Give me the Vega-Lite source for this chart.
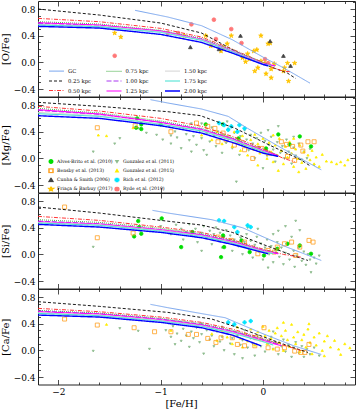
{
"$schema":"https://vega.github.io/schema/vega-lite/v6.json",
"padding":{"left":0,"top":0,"right":1,"bottom":0},
"bounds":"flush",
"spacing":0,
"config":{"view":{"stroke":null},"axis":{"labelFont":"DejaVu Serif","titleFont":"DejaVu Serif","labelFontSize":9,"titleFontSize":10,"titleFontWeight":"normal","domainColor":"#222","tickColor":"#222","labelColor":"#000","titleColor":"#000","tickWidth":0.8,"domainWidth":1,"grid":false,"labelOverlap":false,"labelBound":false,"labelFlush":false},"legend":{"labelFont":"DejaVu Serif","labelColor":"#000"}},
"resolve":{"scale":{"color":"independent","fill":"independent","stroke":"independent","shape":"independent","size":"independent","strokeDash":"independent","strokeWidth":"independent"}},
"datasets":{
"lines":[
{"p":1,"m":"GC","x":-1.25,"y":0.78},{"p":1,"m":"GC","x":-0.93,"y":0.68},{"p":1,"m":"GC","x":-0.6,"y":0.55},{"p":1,"m":"GC","x":-0.3,"y":0.34},{"p":1,"m":"GC","x":0.0,"y":0.08},{"p":1,"m":"GC","x":0.2,"y":-0.08},{"p":1,"m":"GC","x":0.46,"y":-0.31},
{"p":1,"m":"0.25 kpc","x":-2.2,"y":0.80},{"p":1,"m":"0.25 kpc","x":-1.6,"y":0.71},{"p":1,"m":"0.25 kpc","x":-1.0,"y":0.59},{"p":1,"m":"0.25 kpc","x":-0.6,"y":0.44},{"p":1,"m":"0.25 kpc","x":-0.44,"y":0.31},{"p":1,"m":"0.25 kpc","x":-0.27,"y":0.17},{"p":1,"m":"0.25 kpc","x":-0.12,"y":0.05},{"p":1,"m":"0.25 kpc","x":0.05,"y":-0.05},{"p":1,"m":"0.25 kpc","x":0.24,"y":-0.16},{"p":1,"m":"0.25 kpc","x":0.32,"y":-0.24},
{"p":1,"m":"0.50 kpc","x":-2.2,"y":0.66},{"p":1,"m":"0.50 kpc","x":-1.6,"y":0.61},{"p":1,"m":"0.50 kpc","x":-1.0,"y":0.51},{"p":1,"m":"0.50 kpc","x":-0.6,"y":0.38},{"p":1,"m":"0.50 kpc","x":-0.3,"y":0.20},{"p":1,"m":"0.50 kpc","x":0.0,"y":0.0},{"p":1,"m":"0.50 kpc","x":0.1,"y":-0.08},{"p":1,"m":"0.50 kpc","x":0.2,"y":-0.13},{"p":1,"m":"0.50 kpc","x":0.27,"y":-0.14},
{"p":1,"m":"0.75 kpc","x":-2.2,"y":0.61},{"p":1,"m":"0.75 kpc","x":-1.6,"y":0.575},{"p":1,"m":"0.75 kpc","x":-1.0,"y":0.48},{"p":1,"m":"0.75 kpc","x":-0.6,"y":0.36},{"p":1,"m":"0.75 kpc","x":-0.3,"y":0.19},{"p":1,"m":"0.75 kpc","x":0.0,"y":0.0},{"p":1,"m":"0.75 kpc","x":0.12,"y":-0.06},
{"p":1,"m":"1.00 kpc","x":-2.2,"y":0.585},{"p":1,"m":"1.00 kpc","x":-1.6,"y":0.555},{"p":1,"m":"1.00 kpc","x":-1.0,"y":0.47},{"p":1,"m":"1.00 kpc","x":-0.6,"y":0.35},{"p":1,"m":"1.00 kpc","x":-0.3,"y":0.18},{"p":1,"m":"1.00 kpc","x":0.0,"y":-0.01},{"p":1,"m":"1.00 kpc","x":0.1,"y":-0.05},
{"p":1,"m":"1.25 kpc","x":-2.2,"y":0.595},{"p":1,"m":"1.25 kpc","x":-1.6,"y":0.56},{"p":1,"m":"1.25 kpc","x":-1.0,"y":0.47},{"p":1,"m":"1.25 kpc","x":-0.6,"y":0.345},{"p":1,"m":"1.25 kpc","x":-0.3,"y":0.17},{"p":1,"m":"1.25 kpc","x":0.0,"y":-0.02},{"p":1,"m":"1.25 kpc","x":0.12,"y":-0.05},
{"p":1,"m":"1.50 kpc","x":-2.2,"y":0.57},{"p":1,"m":"1.50 kpc","x":-1.6,"y":0.545},{"p":1,"m":"1.50 kpc","x":-1.0,"y":0.46},{"p":1,"m":"1.50 kpc","x":-0.6,"y":0.34},{"p":1,"m":"1.50 kpc","x":-0.3,"y":0.17},{"p":1,"m":"1.50 kpc","x":0.0,"y":-0.02},{"p":1,"m":"1.50 kpc","x":0.08,"y":-0.05},
{"p":1,"m":"1.75 kpc","x":-2.2,"y":0.56},{"p":1,"m":"1.75 kpc","x":-1.6,"y":0.535},{"p":1,"m":"1.75 kpc","x":-1.0,"y":0.45},{"p":1,"m":"1.75 kpc","x":-0.6,"y":0.33},{"p":1,"m":"1.75 kpc","x":-0.3,"y":0.16},{"p":1,"m":"1.75 kpc","x":0.0,"y":-0.03},{"p":1,"m":"1.75 kpc","x":0.08,"y":-0.05},
{"p":1,"m":"2.00 kpc","x":-2.2,"y":0.54},{"p":1,"m":"2.00 kpc","x":-1.6,"y":0.515},{"p":1,"m":"2.00 kpc","x":-1.0,"y":0.42},{"p":1,"m":"2.00 kpc","x":-0.6,"y":0.30},{"p":1,"m":"2.00 kpc","x":-0.3,"y":0.14},{"p":1,"m":"2.00 kpc","x":0.0,"y":-0.03},{"p":1,"m":"2.00 kpc","x":0.05,"y":-0.05},

{"p":2,"m":"GC","x":-1.1,"y":0.88},{"p":2,"m":"GC","x":-0.93,"y":0.83},{"p":2,"m":"GC","x":-0.6,"y":0.74},{"p":2,"m":"GC","x":-0.34,"y":0.63},{"p":2,"m":"GC","x":-0.15,"y":0.45},{"p":2,"m":"GC","x":0.2,"y":0.14},{"p":2,"m":"GC","x":0.57,"y":-0.17},
{"p":2,"m":"0.25 kpc","x":-2.2,"y":0.84},{"p":2,"m":"0.25 kpc","x":-1.6,"y":0.78},{"p":2,"m":"0.25 kpc","x":-0.93,"y":0.70},{"p":2,"m":"0.25 kpc","x":-0.61,"y":0.64},{"p":2,"m":"0.25 kpc","x":-0.27,"y":0.45},{"p":2,"m":"0.25 kpc","x":0.05,"y":0.21},{"p":2,"m":"0.25 kpc","x":0.37,"y":-0.02},{"p":2,"m":"0.25 kpc","x":0.47,"y":-0.12},
{"p":2,"m":"0.50 kpc","x":-2.2,"y":0.78},{"p":2,"m":"0.50 kpc","x":-1.6,"y":0.71},{"p":2,"m":"0.50 kpc","x":-1.0,"y":0.60},{"p":2,"m":"0.50 kpc","x":-0.6,"y":0.48},{"p":2,"m":"0.50 kpc","x":-0.3,"y":0.33},{"p":2,"m":"0.50 kpc","x":0.0,"y":0.15},{"p":2,"m":"0.50 kpc","x":0.2,"y":0.0},{"p":2,"m":"0.50 kpc","x":0.31,"y":-0.05},
{"p":2,"m":"0.75 kpc","x":-2.2,"y":0.75},{"p":2,"m":"0.75 kpc","x":-1.6,"y":0.68},{"p":2,"m":"0.75 kpc","x":-1.0,"y":0.56},{"p":2,"m":"0.75 kpc","x":-0.6,"y":0.45},{"p":2,"m":"0.75 kpc","x":-0.3,"y":0.31},{"p":2,"m":"0.75 kpc","x":0.0,"y":0.13},{"p":2,"m":"0.75 kpc","x":0.15,"y":0.05},
{"p":2,"m":"1.00 kpc","x":-2.2,"y":0.72},{"p":2,"m":"1.00 kpc","x":-1.6,"y":0.66},{"p":2,"m":"1.00 kpc","x":-1.0,"y":0.54},{"p":2,"m":"1.00 kpc","x":-0.6,"y":0.44},{"p":2,"m":"1.00 kpc","x":-0.3,"y":0.30},{"p":2,"m":"1.00 kpc","x":0.0,"y":0.12},{"p":2,"m":"1.00 kpc","x":0.12,"y":0.05},
{"p":2,"m":"1.25 kpc","x":-2.2,"y":0.73},{"p":2,"m":"1.25 kpc","x":-1.6,"y":0.665},{"p":2,"m":"1.25 kpc","x":-1.0,"y":0.54},{"p":2,"m":"1.25 kpc","x":-0.6,"y":0.43},{"p":2,"m":"1.25 kpc","x":-0.3,"y":0.29},{"p":2,"m":"1.25 kpc","x":0.0,"y":0.12},{"p":2,"m":"1.25 kpc","x":0.15,"y":0.04},
{"p":2,"m":"1.50 kpc","x":-2.2,"y":0.69},{"p":2,"m":"1.50 kpc","x":-1.6,"y":0.64},{"p":2,"m":"1.50 kpc","x":-1.0,"y":0.52},{"p":2,"m":"1.50 kpc","x":-0.6,"y":0.42},{"p":2,"m":"1.50 kpc","x":-0.3,"y":0.28},{"p":2,"m":"1.50 kpc","x":0.0,"y":0.11},{"p":2,"m":"1.50 kpc","x":0.1,"y":0.05},
{"p":2,"m":"1.75 kpc","x":-2.2,"y":0.67},{"p":2,"m":"1.75 kpc","x":-1.6,"y":0.63},{"p":2,"m":"1.75 kpc","x":-1.0,"y":0.51},{"p":2,"m":"1.75 kpc","x":-0.6,"y":0.41},{"p":2,"m":"1.75 kpc","x":-0.3,"y":0.27},{"p":2,"m":"1.75 kpc","x":0.0,"y":0.10},{"p":2,"m":"1.75 kpc","x":0.1,"y":0.04},
{"p":2,"m":"2.00 kpc","x":-2.2,"y":0.64},{"p":2,"m":"2.00 kpc","x":-1.6,"y":0.60},{"p":2,"m":"2.00 kpc","x":-1.0,"y":0.49},{"p":2,"m":"2.00 kpc","x":-0.6,"y":0.38},{"p":2,"m":"2.00 kpc","x":-0.3,"y":0.24},{"p":2,"m":"2.00 kpc","x":0.0,"y":0.08},{"p":2,"m":"2.00 kpc","x":0.15,"y":0.03},

{"p":3,"m":"GC","x":-1.08,"y":0.66},{"p":3,"m":"GC","x":-0.93,"y":0.62},{"p":3,"m":"GC","x":-0.5,"y":0.52},{"p":3,"m":"GC","x":-0.2,"y":0.40},{"p":3,"m":"GC","x":0.2,"y":0.13},{"p":3,"m":"GC","x":0.57,"y":-0.09},
{"p":3,"m":"0.25 kpc","x":-2.2,"y":0.71},{"p":3,"m":"0.25 kpc","x":-1.6,"y":0.62},{"p":3,"m":"0.25 kpc","x":-1.0,"y":0.51},{"p":3,"m":"0.25 kpc","x":-0.6,"y":0.44},{"p":3,"m":"0.25 kpc","x":-0.3,"y":0.33},{"p":3,"m":"0.25 kpc","x":0.0,"y":0.15},{"p":3,"m":"0.25 kpc","x":0.3,"y":-0.02},{"p":3,"m":"0.25 kpc","x":0.44,"y":-0.09},
{"p":3,"m":"0.50 kpc","x":-2.2,"y":0.57},{"p":3,"m":"0.50 kpc","x":-1.6,"y":0.51},{"p":3,"m":"0.50 kpc","x":-1.0,"y":0.41},{"p":3,"m":"0.50 kpc","x":-0.6,"y":0.33},{"p":3,"m":"0.50 kpc","x":-0.3,"y":0.22},{"p":3,"m":"0.50 kpc","x":0.0,"y":0.08},{"p":3,"m":"0.50 kpc","x":0.2,"y":0.0},{"p":3,"m":"0.50 kpc","x":0.37,"y":-0.04},
{"p":3,"m":"0.75 kpc","x":-2.2,"y":0.52},{"p":3,"m":"0.75 kpc","x":-1.6,"y":0.48},{"p":3,"m":"0.75 kpc","x":-1.0,"y":0.39},{"p":3,"m":"0.75 kpc","x":-0.6,"y":0.31},{"p":3,"m":"0.75 kpc","x":-0.3,"y":0.21},{"p":3,"m":"0.75 kpc","x":0.0,"y":0.07},{"p":3,"m":"0.75 kpc","x":0.15,"y":0.02},
{"p":3,"m":"1.00 kpc","x":-2.2,"y":0.50},{"p":3,"m":"1.00 kpc","x":-1.6,"y":0.46},{"p":3,"m":"1.00 kpc","x":-1.0,"y":0.37},{"p":3,"m":"1.00 kpc","x":-0.6,"y":0.30},{"p":3,"m":"1.00 kpc","x":-0.3,"y":0.20},{"p":3,"m":"1.00 kpc","x":0.0,"y":0.06},{"p":3,"m":"1.00 kpc","x":0.15,"y":0.01},
{"p":3,"m":"1.25 kpc","x":-2.2,"y":0.49},{"p":3,"m":"1.25 kpc","x":-1.6,"y":0.455},{"p":3,"m":"1.25 kpc","x":-1.0,"y":0.37},{"p":3,"m":"1.25 kpc","x":-0.6,"y":0.29},{"p":3,"m":"1.25 kpc","x":-0.3,"y":0.19},{"p":3,"m":"1.25 kpc","x":0.0,"y":0.06},{"p":3,"m":"1.25 kpc","x":0.15,"y":0.01},
{"p":3,"m":"1.50 kpc","x":-2.2,"y":0.48},{"p":3,"m":"1.50 kpc","x":-1.6,"y":0.445},{"p":3,"m":"1.50 kpc","x":-1.0,"y":0.36},{"p":3,"m":"1.50 kpc","x":-0.6,"y":0.28},{"p":3,"m":"1.50 kpc","x":-0.3,"y":0.18},{"p":3,"m":"1.50 kpc","x":0.0,"y":0.05},{"p":3,"m":"1.50 kpc","x":0.1,"y":0.02},
{"p":3,"m":"1.75 kpc","x":-2.2,"y":0.47},{"p":3,"m":"1.75 kpc","x":-1.6,"y":0.435},{"p":3,"m":"1.75 kpc","x":-1.0,"y":0.35},{"p":3,"m":"1.75 kpc","x":-0.6,"y":0.27},{"p":3,"m":"1.75 kpc","x":-0.3,"y":0.17},{"p":3,"m":"1.75 kpc","x":0.0,"y":0.04},{"p":3,"m":"1.75 kpc","x":0.1,"y":0.01},
{"p":3,"m":"2.00 kpc","x":-2.2,"y":0.45},{"p":3,"m":"2.00 kpc","x":-1.6,"y":0.41},{"p":3,"m":"2.00 kpc","x":-1.0,"y":0.33},{"p":3,"m":"2.00 kpc","x":-0.6,"y":0.25},{"p":3,"m":"2.00 kpc","x":-0.3,"y":0.15},{"p":3,"m":"2.00 kpc","x":0.0,"y":0.03},{"p":3,"m":"2.00 kpc","x":0.05,"y":0.01},

{"p":4,"m":"GC","x":-1.1,"y":0.69},{"p":4,"m":"GC","x":-0.93,"y":0.64},{"p":4,"m":"GC","x":-0.37,"y":0.49},{"p":4,"m":"GC","x":0.0,"y":0.25},{"p":4,"m":"GC","x":0.3,"y":0.07},{"p":4,"m":"GC","x":0.57,"y":-0.06},
{"p":4,"m":"0.25 kpc","x":-2.2,"y":0.73},{"p":4,"m":"0.25 kpc","x":-1.6,"y":0.66},{"p":4,"m":"0.25 kpc","x":-0.93,"y":0.57},{"p":4,"m":"0.25 kpc","x":-0.5,"y":0.47},{"p":4,"m":"0.25 kpc","x":-0.2,"y":0.32},{"p":4,"m":"0.25 kpc","x":0.1,"y":0.15},{"p":4,"m":"0.25 kpc","x":0.3,"y":0.04},{"p":4,"m":"0.25 kpc","x":0.44,"y":-0.03},
{"p":4,"m":"0.50 kpc","x":-2.2,"y":0.63},{"p":4,"m":"0.50 kpc","x":-1.6,"y":0.58},{"p":4,"m":"0.50 kpc","x":-1.0,"y":0.50},{"p":4,"m":"0.50 kpc","x":-0.6,"y":0.42},{"p":4,"m":"0.50 kpc","x":-0.3,"y":0.32},{"p":4,"m":"0.50 kpc","x":0.0,"y":0.18},{"p":4,"m":"0.50 kpc","x":0.2,"y":0.08},{"p":4,"m":"0.50 kpc","x":0.37,"y":0.0},
{"p":4,"m":"0.75 kpc","x":-2.2,"y":0.60},{"p":4,"m":"0.75 kpc","x":-1.6,"y":0.56},{"p":4,"m":"0.75 kpc","x":-1.0,"y":0.48},{"p":4,"m":"0.75 kpc","x":-0.6,"y":0.40},{"p":4,"m":"0.75 kpc","x":-0.3,"y":0.30},{"p":4,"m":"0.75 kpc","x":0.0,"y":0.17},{"p":4,"m":"0.75 kpc","x":0.15,"y":0.10},
{"p":4,"m":"1.00 kpc","x":-2.2,"y":0.59},{"p":4,"m":"1.00 kpc","x":-1.6,"y":0.55},{"p":4,"m":"1.00 kpc","x":-1.0,"y":0.47},{"p":4,"m":"1.00 kpc","x":-0.6,"y":0.39},{"p":4,"m":"1.00 kpc","x":-0.3,"y":0.29},{"p":4,"m":"1.00 kpc","x":0.0,"y":0.16},{"p":4,"m":"1.00 kpc","x":0.15,"y":0.09},
{"p":4,"m":"1.25 kpc","x":-2.2,"y":0.58},{"p":4,"m":"1.25 kpc","x":-1.6,"y":0.545},{"p":4,"m":"1.25 kpc","x":-1.0,"y":0.46},{"p":4,"m":"1.25 kpc","x":-0.6,"y":0.38},{"p":4,"m":"1.25 kpc","x":-0.3,"y":0.28},{"p":4,"m":"1.25 kpc","x":0.0,"y":0.15},{"p":4,"m":"1.25 kpc","x":0.18,"y":0.07},
{"p":4,"m":"1.50 kpc","x":-2.2,"y":0.565},{"p":4,"m":"1.50 kpc","x":-1.6,"y":0.53},{"p":4,"m":"1.50 kpc","x":-1.0,"y":0.45},{"p":4,"m":"1.50 kpc","x":-0.6,"y":0.37},{"p":4,"m":"1.50 kpc","x":-0.3,"y":0.27},{"p":4,"m":"1.50 kpc","x":0.0,"y":0.14},{"p":4,"m":"1.50 kpc","x":0.1,"y":0.09},
{"p":4,"m":"1.75 kpc","x":-2.2,"y":0.555},{"p":4,"m":"1.75 kpc","x":-1.6,"y":0.52},{"p":4,"m":"1.75 kpc","x":-1.0,"y":0.44},{"p":4,"m":"1.75 kpc","x":-0.6,"y":0.36},{"p":4,"m":"1.75 kpc","x":-0.3,"y":0.26},{"p":4,"m":"1.75 kpc","x":0.0,"y":0.13},{"p":4,"m":"1.75 kpc","x":0.1,"y":0.08},
{"p":4,"m":"2.00 kpc","x":-2.2,"y":0.53},{"p":4,"m":"2.00 kpc","x":-1.6,"y":0.50},{"p":4,"m":"2.00 kpc","x":-1.0,"y":0.42},{"p":4,"m":"2.00 kpc","x":-0.6,"y":0.34},{"p":4,"m":"2.00 kpc","x":-0.3,"y":0.23},{"p":4,"m":"2.00 kpc","x":-0.02,"y":0.07}
],
"obs":[
{"p":1,"s":"F","x":-1.45,"y":0.44},{"p":1,"s":"F","x":-1.39,"y":0.38},{"p":1,"s":"F","x":-0.77,"y":0.40},{"p":1,"s":"F","x":-0.56,"y":0.40},{"p":1,"s":"F","x":-0.51,"y":0.25},{"p":1,"s":"F","x":-0.35,"y":0.28},{"p":1,"s":"F","x":-0.31,"y":0.40},{"p":1,"s":"F","x":-0.39,"y":0.22},{"p":1,"s":"F","x":-0.41,"y":0.17},{"p":1,"s":"F","x":-0.15,"y":0.13},{"p":1,"s":"F","x":-0.09,"y":0.17},{"p":1,"s":"F","x":-0.06,"y":0.19},{"p":1,"s":"F","x":-0.02,"y":0.40},{"p":1,"s":"F","x":0.05,"y":0.28},{"p":1,"s":"F","x":0.07,"y":0.29},{"p":1,"s":"F","x":-0.2,"y":0.07},{"p":1,"s":"F","x":-0.13,"y":0.05},{"p":1,"s":"F","x":-0.08,"y":-0.13},{"p":1,"s":"F","x":-0.02,"y":0.02},{"p":1,"s":"F","x":0.02,"y":-0.01},{"p":1,"s":"F","x":0.05,"y":-0.02},{"p":1,"s":"F","x":0.08,"y":-0.1},{"p":1,"s":"F","x":0.08,"y":-0.23},{"p":1,"s":"F","x":0.03,"y":-0.17},{"p":1,"s":"F","x":0.11,"y":-0.02},{"p":1,"s":"F","x":0.2,"y":-0.13},{"p":1,"s":"F","x":0.24,"y":-0.01},{"p":1,"s":"F","x":0.31,"y":-0.01},{"p":1,"s":"F","x":0.25,"y":-0.28},{"p":1,"s":"F","x":0.21,"y":-0.08},{"p":1,"s":"F","x":-0.05,"y":-0.08},{"p":1,"s":"F","x":-0.17,"y":0.01},
{"p":1,"s":"Y","x":-1.45,"y":0.10},{"p":1,"s":"Y","x":-0.93,"y":0.44},{"p":1,"s":"Y","x":-0.83,"y":0.44},{"p":1,"s":"Y","x":-0.7,"y":0.57},{"p":1,"s":"Y","x":-0.48,"y":0.64},{"p":1,"s":"Y","x":-0.31,"y":0.50},{"p":1,"s":"Y","x":-0.21,"y":0.29},{"p":1,"s":"Y","x":-0.46,"y":0.35},{"p":1,"s":"Y","x":0.02,"y":0.05},{"p":1,"s":"Y","x":0.05,"y":-0.01},
{"p":1,"s":"C","x":-0.71,"y":0.23},{"p":1,"s":"C","x":-0.43,"y":0.20},{"p":1,"s":"C","x":-0.22,"y":0.40},{"p":1,"s":"C","x":0.07,"y":0.32},{"p":1,"s":"C","x":0.2,"y":0.10},{"p":1,"s":"C","x":0.27,"y":-0.05},

{"p":2,"s":"G1","x":-1.66,"y":0.10},{"p":2,"s":"G1","x":-1.4,"y":0.30},{"p":2,"s":"G1","x":-1.45,"y":0.22},{"p":2,"s":"G1","x":-1.22,"y":0.45},{"p":2,"s":"G1","x":-1.14,"y":0.38},{"p":2,"s":"G1","x":-1.04,"y":0.35},{"p":2,"s":"G1","x":-0.98,"y":0.28},{"p":2,"s":"G1","x":-0.92,"y":0.48},{"p":2,"s":"G1","x":-0.9,"y":0.22},{"p":2,"s":"G1","x":-0.86,"y":0.40},{"p":2,"s":"G1","x":-0.84,"y":0.31},{"p":2,"s":"G1","x":-0.8,"y":0.15},{"p":2,"s":"G1","x":-0.78,"y":0.45},{"p":2,"s":"G1","x":-0.75,"y":0.36},{"p":2,"s":"G1","x":-0.72,"y":0.27},{"p":2,"s":"G1","x":-0.7,"y":0.52},{"p":2,"s":"G1","x":-0.68,"y":0.33},{"p":2,"s":"G1","x":-0.65,"y":0.20},{"p":2,"s":"G1","x":-0.62,"y":0.41},{"p":2,"s":"G1","x":-0.6,"y":0.30},{"p":2,"s":"G1","x":-0.58,"y":0.12},{"p":2,"s":"G1","x":-0.55,"y":0.37},{"p":2,"s":"G1","x":-0.52,"y":0.25},{"p":2,"s":"G1","x":-0.5,"y":0.46},{"p":2,"s":"G1","x":-0.48,"y":0.33},{"p":2,"s":"G1","x":-0.46,"y":0.18},{"p":2,"s":"G1","x":-0.44,"y":0.40},{"p":2,"s":"G1","x":-0.42,"y":0.29},{"p":2,"s":"G1","x":-0.4,"y":0.08},{"p":2,"s":"G1","x":-0.38,"y":0.35},{"p":2,"s":"G1","x":-0.36,"y":0.23},{"p":2,"s":"G1","x":-0.34,"y":0.44},{"p":2,"s":"G1","x":-0.32,"y":0.30},{"p":2,"s":"G1","x":-0.3,"y":0.15},{"p":2,"s":"G1","x":-0.28,"y":0.38},{"p":2,"s":"G1","x":-0.26,"y":-0.35},{"p":2,"s":"G1","x":-0.25,"y":0.26},{"p":2,"s":"G1","x":-0.23,"y":0.05},{"p":2,"s":"G1","x":-0.22,"y":0.33},{"p":2,"s":"G1","x":-0.2,"y":0.20},{"p":2,"s":"G1","x":-0.18,"y":0.42},{"p":2,"s":"G1","x":-0.16,"y":0.28},{"p":2,"s":"G1","x":-0.14,"y":0.12},{"p":2,"s":"G1","x":-0.12,"y":0.35},{"p":2,"s":"G1","x":-0.1,"y":0.22},{"p":2,"s":"G1","x":-0.08,"y":0.0},{"p":2,"s":"G1","x":-0.06,"y":0.30},{"p":2,"s":"G1","x":-0.04,"y":0.17},{"p":2,"s":"G1","x":-0.02,"y":0.38},{"p":2,"s":"G1","x":0.0,"y":0.10},{"p":2,"s":"G1","x":0.02,"y":0.26},{"p":2,"s":"G1","x":0.04,"y":0.04},{"p":2,"s":"G1","x":0.06,"y":0.20},{"p":2,"s":"G1","x":0.08,"y":0.32},{"p":2,"s":"G1","x":0.1,"y":0.13},{"p":2,"s":"G1","x":0.12,"y":-0.05},{"p":2,"s":"G1","x":0.14,"y":0.24},{"p":2,"s":"G1","x":0.15,"y":0.48},{"p":2,"s":"G1","x":0.17,"y":0.08},{"p":2,"s":"G1","x":0.19,"y":0.18},{"p":2,"s":"G1","x":0.21,"y":0.0},{"p":2,"s":"G1","x":0.23,"y":0.28},{"p":2,"s":"G1","x":0.25,"y":0.10},{"p":2,"s":"G1","x":0.28,"y":-0.08},{"p":2,"s":"G1","x":0.3,"y":0.16},{"p":2,"s":"G1","x":0.32,"y":0.04},{"p":2,"s":"G1","x":0.35,"y":0.22},{"p":2,"s":"G1","x":0.38,"y":-0.02},{"p":2,"s":"G1","x":0.4,"y":0.10},{"p":2,"s":"G1","x":0.43,"y":0.0},{"p":2,"s":"G1","x":0.46,"y":0.14},{"p":2,"s":"G1","x":0.5,"y":-0.1},{"p":2,"s":"G1","x":-0.9,"y":0.34},{"p":2,"s":"G1","x":-0.6,"y":0.52},{"p":2,"s":"G1","x":-0.55,"y":0.05},{"p":2,"s":"G1","x":-0.35,"y":0.55},{"p":2,"s":"G1","x":0.0,"y":-0.15},{"p":2,"s":"G1","x":0.05,"y":0.42},{"p":2,"s":"G1","x":-0.7,"y":0.1},{"p":2,"s":"G1","x":0.3,"y":0.32},
{"p":2,"s":"G2","x":-1.61,"y":0.35},{"p":2,"s":"G2","x":-1.53,"y":0.34},{"p":2,"s":"G2","x":-1.27,"y":0.46},{"p":2,"s":"G2","x":-0.6,"y":0.35},{"p":2,"s":"G2","x":-0.5,"y":0.28},{"p":2,"s":"G2","x":-0.45,"y":0.4},{"p":2,"s":"G2","x":-0.4,"y":0.22},{"p":2,"s":"G2","x":-0.35,"y":0.33},{"p":2,"s":"G2","x":-0.3,"y":0.18},{"p":2,"s":"G2","x":-0.28,"y":0.40},{"p":2,"s":"G2","x":-0.25,"y":0.27},{"p":2,"s":"G2","x":-0.22,"y":0.12},{"p":2,"s":"G2","x":-0.2,"y":0.34},{"p":2,"s":"G2","x":-0.17,"y":0.2},{"p":2,"s":"G2","x":-0.15,"y":0.05},{"p":2,"s":"G2","x":-0.12,"y":0.28},{"p":2,"s":"G2","x":-0.1,"y":0.15},{"p":2,"s":"G2","x":-0.08,"y":0.36},{"p":2,"s":"G2","x":-0.05,"y":0.22},{"p":2,"s":"G2","x":-0.03,"y":0.08},{"p":2,"s":"G2","x":0.0,"y":0.3},{"p":2,"s":"G2","x":0.02,"y":0.15},{"p":2,"s":"G2","x":0.04,"y":0.0},{"p":2,"s":"G2","x":0.06,"y":0.24},{"p":2,"s":"G2","x":0.08,"y":0.1},{"p":2,"s":"G2","x":0.1,"y":-0.05},{"p":2,"s":"G2","x":0.12,"y":0.2},{"p":2,"s":"G2","x":0.14,"y":0.05},{"p":2,"s":"G2","x":0.16,"y":0.3},{"p":2,"s":"G2","x":0.18,"y":0.12},{"p":2,"s":"G2","x":0.2,"y":-0.08},{"p":2,"s":"G2","x":0.22,"y":0.18},{"p":2,"s":"G2","x":0.24,"y":0.02},{"p":2,"s":"G2","x":0.26,"y":0.25},{"p":2,"s":"G2","x":0.28,"y":0.08},{"p":2,"s":"G2","x":0.3,"y":-0.12},{"p":2,"s":"G2","x":0.32,"y":0.14},{"p":2,"s":"G2","x":0.34,"y":0.0},{"p":2,"s":"G2","x":0.36,"y":0.2},{"p":2,"s":"G2","x":0.38,"y":-0.06},{"p":2,"s":"G2","x":0.4,"y":0.1},{"p":2,"s":"G2","x":0.42,"y":-0.15},{"p":2,"s":"G2","x":0.44,"y":0.05},{"p":2,"s":"G2","x":0.46,"y":-0.02},{"p":2,"s":"G2","x":0.48,"y":0.12},{"p":2,"s":"G2","x":0.5,"y":-0.08},{"p":2,"s":"G2","x":0.52,"y":0.02},{"p":2,"s":"G2","x":0.55,"y":-0.12},{"p":2,"s":"G2","x":0.58,"y":0.06},{"p":2,"s":"G2","x":0.62,"y":-0.04},{"p":2,"s":"G2","x":0.67,"y":-0.05},{"p":2,"s":"G2","x":0.72,"y":-0.08},{"p":2,"s":"G2","x":0.76,"y":-0.05},{"p":2,"s":"G2","x":0.8,"y":-0.1},{"p":2,"s":"G2","x":0.83,"y":-0.02},{"p":2,"s":"G2","x":0.1,"y":0.35},{"p":2,"s":"G2","x":0.3,"y":0.3},{"p":2,"s":"G2","x":-0.05,"y":-0.1},{"p":2,"s":"G2","x":0.15,"y":-0.18},{"p":2,"s":"G2","x":0.35,"y":-0.2},
{"p":2,"s":"A","x":-1.23,"y":0.60},{"p":2,"s":"A","x":-1.24,"y":0.46},{"p":2,"s":"A","x":-1.19,"y":0.51},{"p":2,"s":"A","x":-1.19,"y":0.44},{"p":2,"s":"A","x":-1.0,"y":0.51},{"p":2,"s":"A","x":-0.56,"y":0.51},{"p":2,"s":"A","x":-0.39,"y":0.51},{"p":2,"s":"A","x":-0.24,"y":0.30},{"p":2,"s":"A","x":0.15,"y":0.36},{"p":2,"s":"A","x":0.36,"y":0.33},{"p":2,"s":"A","x":0.26,"y":0.21},{"p":2,"s":"A","x":0.03,"y":0.15},{"p":2,"s":"A","x":0.47,"y":0.18},
{"p":2,"s":"B","x":-1.62,"y":0.46},{"p":2,"s":"B","x":-1.25,"y":0.49},{"p":2,"s":"B","x":-0.9,"y":0.40},{"p":2,"s":"B","x":-0.65,"y":0.53},{"p":2,"s":"B","x":-0.47,"y":0.45},{"p":2,"s":"B","x":-0.39,"y":0.38},{"p":2,"s":"B","x":-0.44,"y":0.25},{"p":2,"s":"B","x":-0.28,"y":0.20},{"p":2,"s":"B","x":-0.18,"y":0.13},{"p":2,"s":"B","x":-0.1,"y":0.0},{"p":2,"s":"B","x":-0.08,"y":0.15},{"p":2,"s":"B","x":-0.01,"y":0.15},{"p":2,"s":"B","x":0.05,"y":0.08},{"p":2,"s":"B","x":0.18,"y":0.25},{"p":2,"s":"B","x":0.23,"y":0.21},{"p":2,"s":"B","x":0.29,"y":0.18},{"p":2,"s":"B","x":0.37,"y":0.20},{"p":2,"s":"B","x":0.44,"y":0.25},{"p":2,"s":"B","x":0.5,"y":0.25},{"p":2,"s":"B","x":0.39,"y":0.11},{"p":2,"s":"B","x":0.31,"y":-0.03},{"p":2,"s":"B","x":0.24,"y":0.03},{"p":2,"s":"B","x":-0.54,"y":0.48},{"p":2,"s":"B","x":-0.36,"y":0.28},{"p":2,"s":"B","x":-0.23,"y":0.25},
{"p":2,"s":"R","x":-0.43,"y":0.53},{"p":2,"s":"R","x":-0.38,"y":0.50},{"p":2,"s":"R","x":-0.31,"y":0.48},{"p":2,"s":"R","x":-0.23,"y":0.50},{"p":2,"s":"R","x":-0.18,"y":0.45},{"p":2,"s":"R","x":-0.25,"y":0.40},{"p":2,"s":"R","x":-0.34,"y":0.43},

{"p":3,"s":"G1","x":-1.66,"y":0.11},{"p":3,"s":"G1","x":-1.2,"y":0.35},{"p":3,"s":"G1","x":-1.0,"y":0.42},{"p":3,"s":"G1","x":-0.9,"y":0.3},{"p":3,"s":"G1","x":-0.85,"y":0.44},{"p":3,"s":"G1","x":-0.8,"y":0.38},{"p":3,"s":"G1","x":-0.78,"y":0.22},{"p":3,"s":"G1","x":-0.75,"y":0.33},{"p":3,"s":"G1","x":-0.72,"y":0.45},{"p":3,"s":"G1","x":-0.7,"y":0.28},{"p":3,"s":"G1","x":-0.66,"y":0.38},{"p":3,"s":"G1","x":-0.64,"y":0.18},{"p":3,"s":"G1","x":-0.6,"y":0.32},{"p":3,"s":"G1","x":-0.58,"y":0.42},{"p":3,"s":"G1","x":-0.55,"y":0.25},{"p":3,"s":"G1","x":-0.52,"y":0.35},{"p":3,"s":"G1","x":-0.5,"y":0.15},{"p":3,"s":"G1","x":-0.48,"y":0.3},{"p":3,"s":"G1","x":-0.46,"y":0.4},{"p":3,"s":"G1","x":-0.44,"y":0.22},{"p":3,"s":"G1","x":-0.42,"y":0.32},{"p":3,"s":"G1","x":-0.4,"y":0.1},{"p":3,"s":"G1","x":-0.38,"y":0.26},{"p":3,"s":"G1","x":-0.36,"y":0.36},{"p":3,"s":"G1","x":-0.34,"y":0.18},{"p":3,"s":"G1","x":-0.32,"y":0.28},{"p":3,"s":"G1","x":-0.3,"y":0.05},{"p":3,"s":"G1","x":-0.28,"y":0.22},{"p":3,"s":"G1","x":-0.26,"y":0.32},{"p":3,"s":"G1","x":-0.24,"y":0.12},{"p":3,"s":"G1","x":-0.22,"y":0.25},{"p":3,"s":"G1","x":-0.2,"y":0.0},{"p":3,"s":"G1","x":-0.18,"y":0.18},{"p":3,"s":"G1","x":-0.16,"y":0.3},{"p":3,"s":"G1","x":-0.14,"y":0.08},{"p":3,"s":"G1","x":-0.12,"y":0.2},{"p":3,"s":"G1","x":-0.1,"y":-0.05},{"p":3,"s":"G1","x":-0.08,"y":0.14},{"p":3,"s":"G1","x":-0.06,"y":0.26},{"p":3,"s":"G1","x":-0.04,"y":0.04},{"p":3,"s":"G1","x":-0.02,"y":0.16},{"p":3,"s":"G1","x":0.0,"y":-0.08},{"p":3,"s":"G1","x":0.02,"y":0.1},{"p":3,"s":"G1","x":0.04,"y":0.22},{"p":3,"s":"G1","x":0.06,"y":0.0},{"p":3,"s":"G1","x":0.08,"y":0.12},{"p":3,"s":"G1","x":0.1,"y":-0.12},{"p":3,"s":"G1","x":0.12,"y":0.06},{"p":3,"s":"G1","x":0.14,"y":0.18},{"p":3,"s":"G1","x":0.16,"y":-0.04},{"p":3,"s":"G1","x":0.18,"y":0.1},{"p":3,"s":"G1","x":0.2,"y":-0.15},{"p":3,"s":"G1","x":0.22,"y":0.02},{"p":3,"s":"G1","x":0.24,"y":0.14},{"p":3,"s":"G1","x":0.26,"y":-0.08},{"p":3,"s":"G1","x":0.28,"y":0.26},{"p":3,"s":"G1","x":0.3,"y":0.05},{"p":3,"s":"G1","x":0.31,"y":-0.19},{"p":3,"s":"G1","x":0.33,"y":-0.02},{"p":3,"s":"G1","x":0.35,"y":0.1},{"p":3,"s":"G1","x":0.36,"y":0.36},{"p":3,"s":"G1","x":0.38,"y":-0.1},{"p":3,"s":"G1","x":0.4,"y":0.04},{"p":3,"s":"G1","x":0.42,"y":-0.16},{"p":3,"s":"G1","x":0.44,"y":0.0},{"p":3,"s":"G1","x":0.46,"y":-0.08},{"p":3,"s":"G1","x":0.47,"y":-0.27},{"p":3,"s":"G1","x":0.5,"y":-0.05},{"p":3,"s":"G1","x":0.52,"y":-0.14},{"p":3,"s":"G1","x":0.55,"y":-0.02},{"p":3,"s":"G1","x":-0.05,"y":0.38},{"p":3,"s":"G1","x":0.1,"y":0.3},{"p":3,"s":"G1","x":0.22,"y":0.42},{"p":3,"s":"G1","x":0.32,"y":0.5},{"p":3,"s":"G1","x":-0.6,"y":0.05},{"p":3,"s":"G1","x":0.05,"y":-0.2},{"p":3,"s":"G1","x":0.15,"y":0.35},{"p":3,"s":"G1","x":-0.15,"y":0.4},
{"p":3,"s":"A","x":-1.22,"y":0.50},{"p":3,"s":"A","x":-1.26,"y":0.27},{"p":3,"s":"A","x":-1.19,"y":0.31},{"p":3,"s":"A","x":-1.21,"y":0.41},{"p":3,"s":"A","x":-0.99,"y":0.54},{"p":3,"s":"A","x":-0.8,"y":0.11},{"p":3,"s":"A","x":-0.69,"y":0.335},{"p":3,"s":"A","x":-0.39,"y":0.285},{"p":3,"s":"A","x":-0.38,"y":0.11},{"p":3,"s":"A","x":-0.13,"y":0.035},{"p":3,"s":"A","x":0.01,"y":-0.015},{"p":3,"s":"A","x":0.14,"y":0.085},{"p":3,"s":"A","x":0.24,"y":0.16},{"p":3,"s":"A","x":0.36,"y":0.135},{"p":3,"s":"A","x":0.47,"y":0.01},{"p":3,"s":"A","x":-0.41,"y":-0.04},{"p":3,"s":"A","x":-0.21,"y":0.21},
{"p":3,"s":"B","x":-1.94,"y":0.71},{"p":3,"s":"B","x":-1.62,"y":0.25},{"p":3,"s":"B","x":-1.27,"y":0.32},{"p":3,"s":"B","x":-0.31,"y":0.21},{"p":3,"s":"B","x":-0.18,"y":0.185},{"p":3,"s":"B","x":-0.05,"y":0.01},{"p":3,"s":"B","x":0.05,"y":0.06},{"p":3,"s":"B","x":0.14,"y":0.11},{"p":3,"s":"B","x":0.21,"y":0.16},{"p":3,"s":"B","x":0.28,"y":0.185},{"p":3,"s":"B","x":0.36,"y":0.11},{"p":3,"s":"B","x":0.45,"y":0.21},{"p":3,"s":"B","x":0.49,"y":0.185},{"p":3,"s":"B","x":-0.44,"y":0.26},{"p":3,"s":"B","x":0.11,"y":0.035},{"p":3,"s":"B","x":0.32,"y":-0.015},
{"p":3,"s":"R","x":-0.43,"y":0.51},{"p":3,"s":"R","x":-0.38,"y":0.50},{"p":3,"s":"R","x":-0.28,"y":0.41},{"p":3,"s":"R","x":-0.12,"y":0.41},{"p":3,"s":"R","x":-0.25,"y":0.335},{"p":3,"s":"R","x":-0.15,"y":0.435},

{"p":4,"s":"G1","x":-1.66,"y":-0.01},{"p":4,"s":"G1","x":-1.4,"y":0.33},{"p":4,"s":"G1","x":-1.22,"y":0.29},{"p":4,"s":"G1","x":-1.11,"y":0.02},{"p":4,"s":"G1","x":-0.86,"y":0.09},{"p":4,"s":"G1","x":-0.95,"y":0.3},{"p":4,"s":"G1","x":-0.9,"y":0.2},{"p":4,"s":"G1","x":-0.88,"y":0.36},{"p":4,"s":"G1","x":-0.84,"y":0.25},{"p":4,"s":"G1","x":-0.8,"y":0.14},{"p":4,"s":"G1","x":-0.78,"y":0.32},{"p":4,"s":"G1","x":-0.75,"y":0.22},{"p":4,"s":"G1","x":-0.72,"y":0.05},{"p":4,"s":"G1","x":-0.7,"y":0.28},{"p":4,"s":"G1","x":-0.68,"y":0.18},{"p":4,"s":"G1","x":-0.65,"y":0.34},{"p":4,"s":"G1","x":-0.62,"y":0.12},{"p":4,"s":"G1","x":-0.6,"y":0.24},{"p":4,"s":"G1","x":-0.58,"y":-0.05},{"p":4,"s":"G1","x":-0.55,"y":0.3},{"p":4,"s":"G1","x":-0.52,"y":0.16},{"p":4,"s":"G1","x":-0.5,"y":0.22},{"p":4,"s":"G1","x":-0.48,"y":0.06},{"p":4,"s":"G1","x":-0.45,"y":0.28},{"p":4,"s":"G1","x":-0.42,"y":0.13},{"p":4,"s":"G1","x":-0.4,"y":0.2},{"p":4,"s":"G1","x":-0.38,"y":0.0},{"p":4,"s":"G1","x":-0.35,"y":0.25},{"p":4,"s":"G1","x":-0.32,"y":0.1},{"p":4,"s":"G1","x":-0.3,"y":0.18},{"p":4,"s":"G1","x":-0.28,"y":-0.06},{"p":4,"s":"G1","x":-0.25,"y":0.22},{"p":4,"s":"G1","x":-0.22,"y":0.08},{"p":4,"s":"G1","x":-0.2,"y":0.15},{"p":4,"s":"G1","x":-0.18,"y":0.3},{"p":4,"s":"G1","x":-0.15,"y":0.04},{"p":4,"s":"G1","x":-0.12,"y":0.18},{"p":4,"s":"G1","x":-0.1,"y":0.1},{"p":4,"s":"G1","x":-0.08,"y":-0.08},{"p":4,"s":"G1","x":-0.05,"y":0.22},{"p":4,"s":"G1","x":-0.02,"y":0.06},{"p":4,"s":"G1","x":0.0,"y":0.14},{"p":4,"s":"G1","x":0.02,"y":-0.02},{"p":4,"s":"G1","x":0.05,"y":0.1},{"p":4,"s":"G1","x":0.08,"y":0.2},{"p":4,"s":"G1","x":0.1,"y":0.02},{"p":4,"s":"G1","x":0.12,"y":0.12},{"p":4,"s":"G1","x":0.15,"y":-0.06},{"p":4,"s":"G1","x":0.18,"y":0.06},{"p":4,"s":"G1","x":0.2,"y":0.16},{"p":4,"s":"G1","x":0.22,"y":-0.02},{"p":4,"s":"G1","x":0.25,"y":0.08},{"p":4,"s":"G1","x":0.28,"y":-0.1},{"p":4,"s":"G1","x":0.3,"y":0.04},{"p":4,"s":"G1","x":0.32,"y":0.12},{"p":4,"s":"G1","x":0.35,"y":-0.04},{"p":4,"s":"G1","x":0.38,"y":0.06},{"p":4,"s":"G1","x":0.4,"y":-0.1},{"p":4,"s":"G1","x":0.43,"y":0.02},{"p":4,"s":"G1","x":0.46,"y":-0.06},{"p":4,"s":"G1","x":0.5,"y":0.04},{"p":4,"s":"G1","x":0.55,"y":-0.08},{"p":4,"s":"G1","x":-0.4,"y":0.35},{"p":4,"s":"G1","x":-0.6,"y":0.4},{"p":4,"s":"G1","x":0.1,"y":0.28},{"p":4,"s":"G1","x":-0.2,"y":-0.12},
{"p":4,"s":"G2","x":-1.53,"y":0.39},{"p":4,"s":"G2","x":-0.9,"y":0.3},{"p":4,"s":"G2","x":-0.5,"y":0.25},{"p":4,"s":"G2","x":-0.45,"y":0.15},{"p":4,"s":"G2","x":-0.4,"y":0.3},{"p":4,"s":"G2","x":-0.35,"y":0.2},{"p":4,"s":"G2","x":-0.3,"y":0.1},{"p":4,"s":"G2","x":-0.27,"y":0.28},{"p":4,"s":"G2","x":-0.25,"y":0.35},{"p":4,"s":"G2","x":-0.22,"y":0.18},{"p":4,"s":"G2","x":-0.2,"y":0.05},{"p":4,"s":"G2","x":-0.18,"y":0.25},{"p":4,"s":"G2","x":-0.15,"y":0.14},{"p":4,"s":"G2","x":-0.12,"y":0.32},{"p":4,"s":"G2","x":-0.1,"y":0.2},{"p":4,"s":"G2","x":-0.08,"y":0.08},{"p":4,"s":"G2","x":-0.05,"y":0.28},{"p":4,"s":"G2","x":-0.03,"y":0.16},{"p":4,"s":"G2","x":0.0,"y":0.36},{"p":4,"s":"G2","x":0.02,"y":0.22},{"p":4,"s":"G2","x":0.04,"y":0.1},{"p":4,"s":"G2","x":0.06,"y":0.3},{"p":4,"s":"G2","x":0.08,"y":0.18},{"p":4,"s":"G2","x":0.1,"y":0.02},{"p":4,"s":"G2","x":0.12,"y":0.26},{"p":4,"s":"G2","x":0.14,"y":0.34},{"p":4,"s":"G2","x":0.16,"y":0.12},{"p":4,"s":"G2","x":0.18,"y":0.22},{"p":4,"s":"G2","x":0.2,"y":0.0},{"p":4,"s":"G2","x":0.22,"y":0.3},{"p":4,"s":"G2","x":0.24,"y":0.16},{"p":4,"s":"G2","x":0.26,"y":0.06},{"p":4,"s":"G2","x":0.28,"y":0.39},{"p":4,"s":"G2","x":0.3,"y":0.2},{"p":4,"s":"G2","x":0.32,"y":0.1},{"p":4,"s":"G2","x":0.34,"y":0.28},{"p":4,"s":"G2","x":0.36,"y":-0.02},{"p":4,"s":"G2","x":0.38,"y":0.16},{"p":4,"s":"G2","x":0.4,"y":0.24},{"p":4,"s":"G2","x":0.42,"y":0.05},{"p":4,"s":"G2","x":0.44,"y":0.32},{"p":4,"s":"G2","x":0.46,"y":0.12},{"p":4,"s":"G2","x":0.48,"y":-0.05},{"p":4,"s":"G2","x":0.5,"y":0.2},{"p":4,"s":"G2","x":0.52,"y":0.08},{"p":4,"s":"G2","x":0.55,"y":0.26},{"p":4,"s":"G2","x":0.58,"y":0.0},{"p":4,"s":"G2","x":0.6,"y":0.14},{"p":4,"s":"G2","x":0.63,"y":0.22},{"p":4,"s":"G2","x":0.66,"y":0.05},{"p":4,"s":"G2","x":0.7,"y":0.15},{"p":4,"s":"G2","x":0.74,"y":0.02},{"p":4,"s":"G2","x":0.76,"y":-0.06},{"p":4,"s":"G2","x":0.8,"y":0.1},{"p":4,"s":"G2","x":0.85,"y":0.04},{"p":4,"s":"G2","x":0.6,"y":-0.08},{"p":4,"s":"G2","x":0.45,"y":0.4},{"p":4,"s":"G2","x":0.2,"y":0.42},
{"p":4,"s":"B","x":-1.94,"y":0.47},{"p":4,"s":"B","x":-1.62,"y":0.38},{"p":4,"s":"B","x":-1.26,"y":0.34},{"p":4,"s":"B","x":-1.06,"y":0.28},{"p":4,"s":"B","x":-0.9,"y":0.28},{"p":4,"s":"B","x":-0.73,"y":0.24},{"p":4,"s":"B","x":-0.65,"y":0.24},{"p":4,"s":"B","x":-0.54,"y":0.18},{"p":4,"s":"B","x":-0.46,"y":0.12},{"p":4,"s":"B","x":-0.3,"y":0.19},{"p":4,"s":"B","x":-0.25,"y":0.09},{"p":4,"s":"B","x":-0.18,"y":0.07},{"p":4,"s":"B","x":-0.08,"y":0.07},{"p":4,"s":"B","x":0.01,"y":0.34},{"p":4,"s":"B","x":0.05,"y":0.04},{"p":4,"s":"B","x":0.14,"y":0.02},{"p":4,"s":"B","x":0.21,"y":0.04},{"p":4,"s":"B","x":0.31,"y":-0.01},{"p":4,"s":"B","x":0.37,"y":-0.03},{"p":4,"s":"B","x":0.45,"y":0.09},{"p":4,"s":"B","x":0.41,"y":-0.03},{"p":4,"s":"B","x":-0.07,"y":0.19},{"p":4,"s":"B","x":-0.41,"y":0.19},
{"p":4,"s":"R","x":-0.12,"y":0.44},{"p":4,"s":"R","x":-0.28,"y":0.39},{"p":4,"s":"R","x":-0.18,"y":0.42},{"p":4,"s":"R","x":-0.34,"y":0.42}
]},
"vconcat":[
{"width":317,"height":95.5,
"layer":[
{"data":{"name":"obs"},"transform":[{"filter":"datum.p==1"}],"mark":{"type":"point","strokeWidth":0.8,"opacity":1,"clip":true},
"encoding":{"x":{"field":"x","type":"quantitative","scale":{"domain":[-2.2,0.9],"nice":false,"zero":false},"axis":{"orient":"top","values":[-2,-1.8,-1.6,-1.4,-1.2,-1,-0.8,-0.6,-0.4,-0.2,0,0.2,0.4,0.6,0.8],"labels":false,"title":null,"tickSize":{"condition":{"test":"round(datum.value*10)%10==0","value":-5},"value":-2.5}}},
"y":{"field":"y","type":"quantitative","scale":{"domain":[-0.51,0.92],"nice":false,"zero":false},"axis":{"orient":"right","values":[-0.4,-0.3,-0.2,-0.1,0,0.1,0.2,0.3,0.4,0.5,0.6,0.7,0.8,0.9],"labels":false,"title":null,"tickSize":{"condition":{"test":"round(datum.value*10)%4==0","value":-5},"value":-2.5}}},
"shape":{"field":"s","type":"nominal","scale":{"domain":["A","B","C","F","G1","G2","R","Y"],"range":["circle","square","triangle-up","M0,-1L0.2245,-0.309L0.951,-0.309L0.363,0.118L0.588,0.809L0,0.382L-0.588,0.809L-0.363,0.118L-0.951,-0.309L-0.2245,-0.309Z","triangle-down","triangle-up","cross","circle"]},"legend":null},
"fill":{"field":"s","type":"nominal","scale":{"domain":["A","B","C","F","G1","G2","R","Y"],"range":["#00dd00","transparent","#444444","#ffc400","#8fbc8f","#ffee00","#00e5ff","#ff7777"]},"legend":null},
"stroke":{"field":"s","type":"nominal","scale":{"domain":["A","B","C","F","G1","G2","R","Y"],"range":["#00dd00","#ffa020","#444444","#ffc400","#8fbc8f","#ffee00","#00e5ff","#ff7777"]},"legend":null},
"size":{"field":"s","type":"nominal","scale":{"type":"ordinal","domain":["A","B","C","F","G1","G2","R","Y"],"range":[12,16,14,22,4,5,12,14]},"legend":null}}},
{"data":{"name":"lines"},"transform":[{"filter":"datum.p==1"}],"mark":{"type":"line","clip":true},
"encoding":{"x":{"field":"x","type":"quantitative","scale":{"domain":[-2.2,0.9],"nice":false,"zero":false},"axis":{"orient":"bottom","values":[-2,-1.8,-1.6,-1.4,-1.2,-1,-0.8,-0.6,-0.4,-0.2,0,0.2,0.4,0.6,0.8],"labels":false,"title":null,"tickSize":{"condition":{"test":"round(datum.value*10)%10==0","value":-5},"value":-2.5}}},
"y":{"field":"y","type":"quantitative","scale":{"domain":[-0.51,0.92],"nice":false,"zero":false},"axis":{"orient":"left","values":[-0.4,-0.3,-0.2,-0.1,0,0.1,0.2,0.3,0.4,0.5,0.6,0.7,0.8],"format":".1f","labelExpr":"round(datum.value*10)%4==0 ? datum.label : ''","labelPadding":8,"title":"[O/Fe]","titlePadding":3,"tickSize":{"condition":{"test":"round(datum.value*10)%4==0","value":-5},"value":-2.5}}},
"color":{"field":"m","type":"nominal","scale":{"domain":["GC","0.25 kpc","0.50 kpc","0.75 kpc","1.00 kpc","1.25 kpc","1.50 kpc","1.75 kpc","2.00 kpc"],"range":["#7aa6ee","#000000","#ff2020","#5cb85c","#a020f0","#ff00ff","#d3d3d3","#40e0d0","#0000ff"]},"legend":{"orient":"none","legendX":14.5,"legendY":66,"columns":3,"title":null,"symbolType":"M-2.5,0L2.5,0","symbolSize":36,"labelFontSize":5.3,"labelOffset":7.5,"rowPadding":2.5,"columnPadding":12.5}},
"strokeDash":{"field":"m","type":"nominal","scale":{"domain":["GC","0.25 kpc","0.50 kpc","0.75 kpc","1.00 kpc","1.25 kpc","1.50 kpc","1.75 kpc","2.00 kpc"],"range":[[1,0],[3,2],[4,1.5,1,1.5],[1,1],[5,2],[1,0],[1,0],[1,0],[1,0]]},"legend":{"orient":"none","legendX":14.5,"legendY":66,"columns":3,"title":null,"symbolType":"M-2.5,0L2.5,0","symbolSize":36,"labelFontSize":5.3,"labelOffset":7.5,"rowPadding":2.5,"columnPadding":12.5}},
"strokeWidth":{"field":"m","type":"nominal","scale":{"type":"ordinal","domain":["GC","0.25 kpc","0.50 kpc","0.75 kpc","1.00 kpc","1.25 kpc","1.50 kpc","1.75 kpc","2.00 kpc"],"range":[1,0.9,0.9,1.1,0.9,1.1,1,1,1.4]},"legend":{"orient":"none","legendX":14.5,"legendY":66,"columns":3,"title":null,"symbolType":"M-2.5,0L2.5,0","symbolSize":36,"labelFontSize":5.3,"labelOffset":7.5,"rowPadding":2.5,"columnPadding":12.5}}}}
],
"resolve":{"scale":{"x":"independent","y":"independent"},"axis":{"x":"independent","y":"independent"}}},

{"width":317,"height":95.5,
"layer":[
{"data":{"name":"obs"},"transform":[{"filter":"datum.p==2"}],"mark":{"type":"point","strokeWidth":0.8,"opacity":1,"clip":true},
"encoding":{"x":{"field":"x","type":"quantitative","scale":{"domain":[-2.2,0.9],"nice":false,"zero":false},"axis":{"orient":"top","values":[-2,-1.8,-1.6,-1.4,-1.2,-1,-0.8,-0.6,-0.4,-0.2,0,0.2,0.4,0.6,0.8],"labels":false,"title":null,"tickSize":{"condition":{"test":"round(datum.value*10)%10==0","value":-5},"value":-2.5}}},
"y":{"field":"y","type":"quantitative","scale":{"domain":[-0.51,0.92],"nice":false,"zero":false},"axis":{"orient":"right","values":[-0.4,-0.3,-0.2,-0.1,0,0.1,0.2,0.3,0.4,0.5,0.6,0.7,0.8,0.9],"labels":false,"title":null,"tickSize":{"condition":{"test":"round(datum.value*10)%4==0","value":-5},"value":-2.5}}},
"shape":{"field":"s","type":"nominal","scale":{"domain":["A","B","C","F","G1","G2","R","Y"],"range":["circle","square","triangle-up","M0,-1L0.2245,-0.309L0.951,-0.309L0.363,0.118L0.588,0.809L0,0.382L-0.588,0.809L-0.363,0.118L-0.951,-0.309L-0.2245,-0.309Z","triangle-down","triangle-up","cross","circle"]},"legend":{"orient":"none","legendX":9.5,"legendY":62,"columns":2,"title":null,"clipHeight":5,"labelFontSize":4.6,"labelOffset":2.6,"rowPadding":3.2,"columnPadding":0,"labelExpr":"datum.label=='A'?'Alves-Brito et al. (2010)':datum.label=='B'?'Bensby et al. (2013)':datum.label=='C'?'Cunha & Smith (2006)':datum.label=='F'?'Friaça & Barbuy (2017)':datum.label=='G1'?'Gonzalez et al. (2011)':datum.label=='G2'?'Gonzalez et al. (2015)':datum.label=='R'?'Rich et al. (2012)':'Ryde et al. (2010)'"}},
"fill":{"field":"s","type":"nominal","scale":{"domain":["A","B","C","F","G1","G2","R","Y"],"range":["#00dd00","transparent","#444444","#ffc400","#8fbc8f","#ffee00","#00e5ff","#ff7777"]},"legend":{"orient":"none","legendX":9.5,"legendY":62,"columns":2,"title":null,"clipHeight":5,"labelFontSize":4.6,"labelOffset":2.6,"rowPadding":3.2,"columnPadding":0,"labelExpr":"datum.label=='A'?'Alves-Brito et al. (2010)':datum.label=='B'?'Bensby et al. (2013)':datum.label=='C'?'Cunha & Smith (2006)':datum.label=='F'?'Friaça & Barbuy (2017)':datum.label=='G1'?'Gonzalez et al. (2011)':datum.label=='G2'?'Gonzalez et al. (2015)':datum.label=='R'?'Rich et al. (2012)':'Ryde et al. (2010)'"}},
"stroke":{"field":"s","type":"nominal","scale":{"domain":["A","B","C","F","G1","G2","R","Y"],"range":["#00dd00","#ffa020","#444444","#ffc400","#8fbc8f","#ffee00","#00e5ff","#ff7777"]},"legend":{"orient":"none","legendX":9.5,"legendY":62,"columns":2,"title":null,"clipHeight":5,"labelFontSize":4.6,"labelOffset":2.6,"rowPadding":3.2,"columnPadding":0,"labelExpr":"datum.label=='A'?'Alves-Brito et al. (2010)':datum.label=='B'?'Bensby et al. (2013)':datum.label=='C'?'Cunha & Smith (2006)':datum.label=='F'?'Friaça & Barbuy (2017)':datum.label=='G1'?'Gonzalez et al. (2011)':datum.label=='G2'?'Gonzalez et al. (2015)':datum.label=='R'?'Rich et al. (2012)':'Ryde et al. (2010)'"}},
"size":{"field":"s","type":"nominal","scale":{"type":"ordinal","domain":["A","B","C","F","G1","G2","R","Y"],"range":[12,16,14,22,4,5,12,14]},"legend":{"orient":"none","legendX":9.5,"legendY":62,"columns":2,"title":null,"clipHeight":5,"labelFontSize":4.6,"labelOffset":2.6,"rowPadding":3.2,"columnPadding":0,"labelExpr":"datum.label=='A'?'Alves-Brito et al. (2010)':datum.label=='B'?'Bensby et al. (2013)':datum.label=='C'?'Cunha & Smith (2006)':datum.label=='F'?'Friaça & Barbuy (2017)':datum.label=='G1'?'Gonzalez et al. (2011)':datum.label=='G2'?'Gonzalez et al. (2015)':datum.label=='R'?'Rich et al. (2012)':'Ryde et al. (2010)'"}}}},
{"data":{"name":"lines"},"transform":[{"filter":"datum.p==2"}],"mark":{"type":"line","clip":true},
"encoding":{"x":{"field":"x","type":"quantitative","scale":{"domain":[-2.2,0.9],"nice":false,"zero":false},"axis":{"orient":"bottom","values":[-2,-1.8,-1.6,-1.4,-1.2,-1,-0.8,-0.6,-0.4,-0.2,0,0.2,0.4,0.6,0.8],"labels":false,"title":null,"tickSize":{"condition":{"test":"round(datum.value*10)%10==0","value":-5},"value":-2.5}}},
"y":{"field":"y","type":"quantitative","scale":{"domain":[-0.51,0.92],"nice":false,"zero":false},"axis":{"orient":"left","values":[-0.4,-0.3,-0.2,-0.1,0,0.1,0.2,0.3,0.4,0.5,0.6,0.7,0.8],"format":".1f","labelExpr":"round(datum.value*10)%4==0 ? datum.label : ''","labelPadding":8,"title":"[Mg/Fe]","titlePadding":3,"tickSize":{"condition":{"test":"round(datum.value*10)%4==0","value":-5},"value":-2.5}}},
"color":{"field":"m","type":"nominal","scale":{"domain":["GC","0.25 kpc","0.50 kpc","0.75 kpc","1.00 kpc","1.25 kpc","1.50 kpc","1.75 kpc","2.00 kpc"],"range":["#7aa6ee","#000000","#ff2020","#5cb85c","#a020f0","#ff00ff","#d3d3d3","#40e0d0","#0000ff"]},"legend":null},
"strokeDash":{"field":"m","type":"nominal","scale":{"domain":["GC","0.25 kpc","0.50 kpc","0.75 kpc","1.00 kpc","1.25 kpc","1.50 kpc","1.75 kpc","2.00 kpc"],"range":[[1,0],[3,2],[4,1.5,1,1.5],[1,1],[5,2],[1,0],[1,0],[1,0],[1,0]]},"legend":null},
"strokeWidth":{"field":"m","type":"nominal","scale":{"type":"ordinal","domain":["GC","0.25 kpc","0.50 kpc","0.75 kpc","1.00 kpc","1.25 kpc","1.50 kpc","1.75 kpc","2.00 kpc"],"range":[1,0.9,0.9,1.1,0.9,1.1,1,1,1.4]},"legend":null}}}
],
"resolve":{"scale":{"x":"independent","y":"independent"},"axis":{"x":"independent","y":"independent"}}},

{"width":317,"height":95.5,
"layer":[
{"data":{"name":"obs"},"transform":[{"filter":"datum.p==3"}],"mark":{"type":"point","strokeWidth":0.8,"opacity":1,"clip":true},
"encoding":{"x":{"field":"x","type":"quantitative","scale":{"domain":[-2.2,0.9],"nice":false,"zero":false},"axis":{"orient":"top","values":[-2,-1.8,-1.6,-1.4,-1.2,-1,-0.8,-0.6,-0.4,-0.2,0,0.2,0.4,0.6,0.8],"labels":false,"title":null,"tickSize":{"condition":{"test":"round(datum.value*10)%10==0","value":-5},"value":-2.5}}},
"y":{"field":"y","type":"quantitative","scale":{"domain":[-0.51,0.92],"nice":false,"zero":false},"axis":{"orient":"right","values":[-0.4,-0.3,-0.2,-0.1,0,0.1,0.2,0.3,0.4,0.5,0.6,0.7,0.8,0.9],"labels":false,"title":null,"tickSize":{"condition":{"test":"round(datum.value*10)%4==0","value":-5},"value":-2.5}}},
"shape":{"field":"s","type":"nominal","scale":{"domain":["A","B","C","F","G1","G2","R","Y"],"range":["circle","square","triangle-up","M0,-1L0.2245,-0.309L0.951,-0.309L0.363,0.118L0.588,0.809L0,0.382L-0.588,0.809L-0.363,0.118L-0.951,-0.309L-0.2245,-0.309Z","triangle-down","triangle-up","cross","circle"]},"legend":null},
"fill":{"field":"s","type":"nominal","scale":{"domain":["A","B","C","F","G1","G2","R","Y"],"range":["#00dd00","transparent","#444444","#ffc400","#8fbc8f","#ffee00","#00e5ff","#ff7777"]},"legend":null},
"stroke":{"field":"s","type":"nominal","scale":{"domain":["A","B","C","F","G1","G2","R","Y"],"range":["#00dd00","#ffa020","#444444","#ffc400","#8fbc8f","#ffee00","#00e5ff","#ff7777"]},"legend":null},
"size":{"field":"s","type":"nominal","scale":{"type":"ordinal","domain":["A","B","C","F","G1","G2","R","Y"],"range":[12,16,14,22,4,5,12,14]},"legend":null}}},
{"data":{"name":"lines"},"transform":[{"filter":"datum.p==3"}],"mark":{"type":"line","clip":true},
"encoding":{"x":{"field":"x","type":"quantitative","scale":{"domain":[-2.2,0.9],"nice":false,"zero":false},"axis":{"orient":"bottom","values":[-2,-1.8,-1.6,-1.4,-1.2,-1,-0.8,-0.6,-0.4,-0.2,0,0.2,0.4,0.6,0.8],"labels":false,"title":null,"tickSize":{"condition":{"test":"round(datum.value*10)%10==0","value":-5},"value":-2.5}}},
"y":{"field":"y","type":"quantitative","scale":{"domain":[-0.51,0.92],"nice":false,"zero":false},"axis":{"orient":"left","values":[-0.4,-0.3,-0.2,-0.1,0,0.1,0.2,0.3,0.4,0.5,0.6,0.7,0.8],"format":".1f","labelExpr":"round(datum.value*10)%4==0 ? datum.label : ''","labelPadding":8,"title":"[Si/Fe]","titlePadding":3,"tickSize":{"condition":{"test":"round(datum.value*10)%4==0","value":-5},"value":-2.5}}},
"color":{"field":"m","type":"nominal","scale":{"domain":["GC","0.25 kpc","0.50 kpc","0.75 kpc","1.00 kpc","1.25 kpc","1.50 kpc","1.75 kpc","2.00 kpc"],"range":["#7aa6ee","#000000","#ff2020","#5cb85c","#a020f0","#ff00ff","#d3d3d3","#40e0d0","#0000ff"]},"legend":null},
"strokeDash":{"field":"m","type":"nominal","scale":{"domain":["GC","0.25 kpc","0.50 kpc","0.75 kpc","1.00 kpc","1.25 kpc","1.50 kpc","1.75 kpc","2.00 kpc"],"range":[[1,0],[3,2],[4,1.5,1,1.5],[1,1],[5,2],[1,0],[1,0],[1,0],[1,0]]},"legend":null},
"strokeWidth":{"field":"m","type":"nominal","scale":{"type":"ordinal","domain":["GC","0.25 kpc","0.50 kpc","0.75 kpc","1.00 kpc","1.25 kpc","1.50 kpc","1.75 kpc","2.00 kpc"],"range":[1,0.9,0.9,1.1,0.9,1.1,1,1,1.4]},"legend":null}}}
],
"resolve":{"scale":{"x":"independent","y":"independent"},"axis":{"x":"independent","y":"independent"}}},

{"width":317,"height":95.5,
"layer":[
{"data":{"name":"obs"},"transform":[{"filter":"datum.p==4"}],"mark":{"type":"point","strokeWidth":0.8,"opacity":1,"clip":true},
"encoding":{"x":{"field":"x","type":"quantitative","scale":{"domain":[-2.2,0.9],"nice":false,"zero":false},"axis":{"orient":"top","values":[-2,-1.8,-1.6,-1.4,-1.2,-1,-0.8,-0.6,-0.4,-0.2,0,0.2,0.4,0.6,0.8],"labels":false,"title":null,"tickSize":{"condition":{"test":"round(datum.value*10)%10==0","value":-5},"value":-2.5}}},
"y":{"field":"y","type":"quantitative","scale":{"domain":[-0.51,0.92],"nice":false,"zero":false},"axis":{"orient":"right","values":[-0.4,-0.3,-0.2,-0.1,0,0.1,0.2,0.3,0.4,0.5,0.6,0.7,0.8,0.9],"labels":false,"title":null,"tickSize":{"condition":{"test":"round(datum.value*10)%4==0","value":-5},"value":-2.5}}},
"shape":{"field":"s","type":"nominal","scale":{"domain":["A","B","C","F","G1","G2","R","Y"],"range":["circle","square","triangle-up","M0,-1L0.2245,-0.309L0.951,-0.309L0.363,0.118L0.588,0.809L0,0.382L-0.588,0.809L-0.363,0.118L-0.951,-0.309L-0.2245,-0.309Z","triangle-down","triangle-up","cross","circle"]},"legend":null},
"fill":{"field":"s","type":"nominal","scale":{"domain":["A","B","C","F","G1","G2","R","Y"],"range":["#00dd00","transparent","#444444","#ffc400","#8fbc8f","#ffee00","#00e5ff","#ff7777"]},"legend":null},
"stroke":{"field":"s","type":"nominal","scale":{"domain":["A","B","C","F","G1","G2","R","Y"],"range":["#00dd00","#ffa020","#444444","#ffc400","#8fbc8f","#ffee00","#00e5ff","#ff7777"]},"legend":null},
"size":{"field":"s","type":"nominal","scale":{"type":"ordinal","domain":["A","B","C","F","G1","G2","R","Y"],"range":[12,16,14,22,4,5,12,14]},"legend":null}}},
{"data":{"name":"lines"},"transform":[{"filter":"datum.p==4"}],"mark":{"type":"line","clip":true},
"encoding":{"x":{"field":"x","type":"quantitative","scale":{"domain":[-2.2,0.9],"nice":false,"zero":false},"axis":{"orient":"bottom","values":[-2,-1.8,-1.6,-1.4,-1.2,-1,-0.8,-0.6,-0.4,-0.2,0,0.2,0.4,0.6,0.8],"format":".0f","labelExpr":"round(datum.value*10)%10==0 ? datum.label : ''","labelPadding":8,"title":"[Fe/H]","titleX":143,"titleY":14,"titleBaseline":"top","tickSize":{"condition":{"test":"round(datum.value*10)%10==0","value":-5},"value":-2.5}}},
"y":{"field":"y","type":"quantitative","scale":{"domain":[-0.51,0.92],"nice":false,"zero":false},"axis":{"orient":"left","values":[-0.4,-0.3,-0.2,-0.1,0,0.1,0.2,0.3,0.4,0.5,0.6,0.7,0.8],"format":".1f","labelExpr":"round(datum.value*10)%4==0 ? datum.label : ''","labelPadding":8,"title":"[Ca/Fe]","titlePadding":3,"tickSize":{"condition":{"test":"round(datum.value*10)%4==0","value":-5},"value":-2.5}}},
"color":{"field":"m","type":"nominal","scale":{"domain":["GC","0.25 kpc","0.50 kpc","0.75 kpc","1.00 kpc","1.25 kpc","1.50 kpc","1.75 kpc","2.00 kpc"],"range":["#7aa6ee","#000000","#ff2020","#5cb85c","#a020f0","#ff00ff","#d3d3d3","#40e0d0","#0000ff"]},"legend":null},
"strokeDash":{"field":"m","type":"nominal","scale":{"domain":["GC","0.25 kpc","0.50 kpc","0.75 kpc","1.00 kpc","1.25 kpc","1.50 kpc","1.75 kpc","2.00 kpc"],"range":[[1,0],[3,2],[4,1.5,1,1.5],[1,1],[5,2],[1,0],[1,0],[1,0],[1,0]]},"legend":null},
"strokeWidth":{"field":"m","type":"nominal","scale":{"type":"ordinal","domain":["GC","0.25 kpc","0.50 kpc","0.75 kpc","1.00 kpc","1.25 kpc","1.50 kpc","1.75 kpc","2.00 kpc"],"range":[1,0.9,0.9,1.1,0.9,1.1,1,1,1.4]},"legend":null}}}
],
"resolve":{"scale":{"x":"independent","y":"independent"},"axis":{"x":"independent","y":"independent"}}}
]
}
